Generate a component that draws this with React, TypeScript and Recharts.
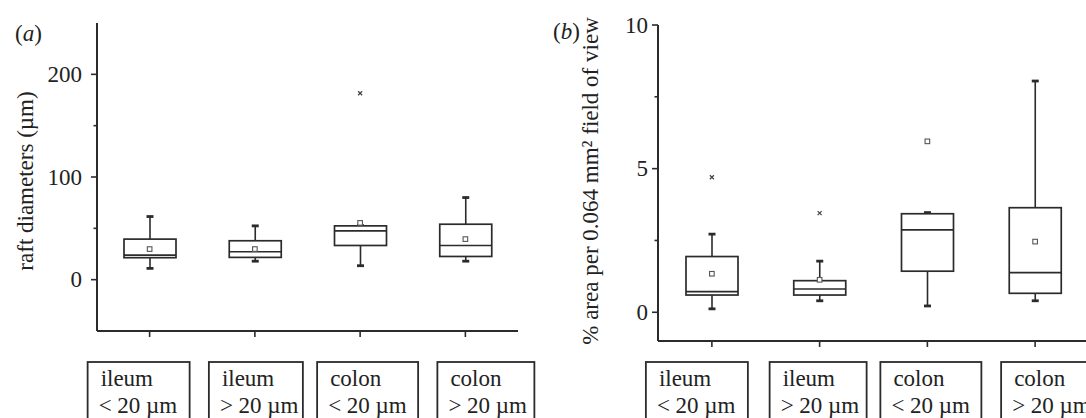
import React from 'react';
import { ComposedChart, Bar, Line, XAxis, YAxis } from 'recharts';

// ---------- data ----------
const CATEGORIES = ['ileum < 20 µm', 'ileum > 20 µm', 'colon < 20 µm', 'colon > 20 µm'];
const LABEL_LINE1 = ['ileum', 'ileum', 'colon', 'colon'];
const LABEL_LINE2 = ['< 20 µm', '> 20 µm', '< 20 µm', '> 20 µm'];

// panel (a): raft diameters (µm)
const A_LOW = [11, 18, 13.6, 18];
const A_Q1 = [21.4, 21.7, 33.3, 22.6];
const A_MED = [24, 27.2, 47.6, 33.3];
const A_Q3 = [39.5, 37.9, 52.4, 54];
const A_HIGH = [61.5, 52.4, 52.6, 80];
const A_MEAN = [29.8, 29.8, 55.3, 39.5];
const A_OUT: (number | null)[] = [null, null, 181.5, null];
const A_DOMAIN: [number, number] = [-50, 250];
const A_TICKS = [0, 50, 100, 150, 200];
const A_TICK_LABELS = [0, 100, 200];

// panel (b): % area per 0.064 mm² field of view
const B_LOW = [0.12, 0.4, 0.22, 0.4];
const B_Q1 = [0.6, 0.6, 1.43, 0.66];
const B_MED = [0.72, 0.81, 2.87, 1.38];
const B_Q3 = [1.94, 1.1, 3.43, 3.64];
const B_HIGH = [2.72, 1.78, 3.47, 8.05];
const B_MEAN = [1.34, 1.13, 5.95, 2.46];
const B_OUT: (number | null)[] = [4.7, 3.45, null, null];
const B_DOMAIN: [number, number] = [-1, 10];
const B_TICKS = [0, 2.5, 5, 7.5, 10];
const B_TICK_LABELS = [0, 5, 10];

// ---------- style / layout ----------
const INK = '#2b2b2b';
const FONT = "'Liberation Serif', 'Times New Roman', serif";
const FS = 23;
const LABEL_BOX_A = [
  { dx: -62, w: 102 },
  { dx: -46, w: 94 },
  { dx: -43, w: 101 },
  { dx: -28, w: 97 },
];
const LABEL_BOX_B = [
  { dx: -66, w: 102 },
  { dx: -50, w: 97 },
  { dx: -47, w: 101 },
  { dx: -34, w: 100 },
];

const buildRows = (
  lo: number[], q1: number[], med: number[], q3: number[], hi: number[], mean: number[], out: (number | null)[]
) =>
  CATEGORIES.map((cat, i) => ({
    cat,
    whisker: [lo[i], hi[i]],
    box: [q1[i], q3[i]],
    medSeg: [q1[i], med[i]],
    mean: mean[i],
    out: out[i],
  }));

const ROWS_A = buildRows(A_LOW, A_Q1, A_MED, A_Q3, A_HIGH, A_MEAN, A_OUT);
const ROWS_B = buildRows(B_LOW, B_Q1, B_MED, B_Q3, B_HIGH, B_MEAN, B_OUT);

// ---------- shapes ----------
const norm = (p: any) => {
  const top = Math.min(p.y, p.y + p.height);
  const bot = Math.max(p.y, p.y + p.height);
  return { top, bot, cx: p.x + p.width / 2, left: p.x, w: p.width };
};

const WhiskerShape = (p: any) => {
  const { top, bot, cx } = norm(p);
  return (
    <g>
      <line x1={cx} x2={cx} y1={top} y2={bot} stroke={INK} strokeWidth={1.6} />
      <line x1={cx - 3.5} x2={cx + 3.5} y1={top} y2={top} stroke={INK} strokeWidth={2.8} />
      <line x1={cx - 3.5} x2={cx + 3.5} y1={bot} y2={bot} stroke={INK} strokeWidth={2.8} />
    </g>
  );
};

const BoxShape = (p: any) => {
  const { top, bot, left, w } = norm(p);
  return <rect x={left} y={top} width={w} height={bot - top} fill="#fff" stroke={INK} strokeWidth={1.7} />;
};

const MedianShape = (p: any) => {
  const { top, left, w } = norm(p);
  return <line x1={left} x2={left + w} y1={top} y2={top} stroke={INK} strokeWidth={1.7} />;
};

const MeanDot = (p: any) => {
  const { cx, cy, payload } = p;
  if (payload == null || payload.mean == null || cy == null || isNaN(cy)) return null;
  return <rect x={cx - 2.3} y={cy - 2.3} width={4.6} height={4.6} fill="#fff" stroke="#555" strokeWidth={1.1} />;
};

const OutDot = (p: any) => {
  const { cx, cy, payload } = p;
  if (payload == null || payload.out == null || cy == null || isNaN(cy)) return null;
  return (
    <g stroke="#444" strokeWidth={1.3}>
      <line x1={cx - 2} x2={cx + 2} y1={cy - 2} y2={cy + 2} />
      <line x1={cx - 2} x2={cx + 2} y1={cy + 2} y2={cy - 2} />
    </g>
  );
};

const makeYTick = (labelled: number[], gap: number) => (p: any) => {
  const { x, y, payload } = p;
  const major = labelled.includes(payload.value);
  return (
    <g>
      <line x1={x - (major ? 6 : 3.5)} x2={x} y1={y} y2={y} stroke={INK} strokeWidth={1.6} />
      {major && (
        <text x={x - gap} y={y} dy="0.34em" textAnchor="end" fontFamily={FONT} fontSize={FS} fill="#222">
          {payload.value}
        </text>
      )}
    </g>
  );
};

const makeXTick = (boxes: { dx: number; w: number }[], boxTop: number) => (p: any) => {
  const { x, y, index } = p;
  const b = boxes[index];
  const bx = x + b.dx;
  return (
    <g>
      <line x1={x} x2={x} y1={y} y2={y + 6} stroke={INK} strokeWidth={1.6} />
      <rect x={bx} y={boxTop} width={b.w} height={80} fill="none" stroke={INK} strokeWidth={1.8} />
      <text x={bx + 13} y={boxTop + 24} fontFamily={FONT} fontSize={FS} fill="#222">
        {LABEL_LINE1[index]}
      </text>
      <text x={bx + 11} y={boxTop + 51} fontFamily={FONT} fontSize={FS} fill="#222">
        {LABEL_LINE2[index]}
      </text>
    </g>
  );
};

type PanelProps = {
  rows: any[];
  width: number;
  margin: { top: number; right: number; left: number; bottom: number };
  domain: [number, number];
  ticks: number[];
  labelled: number[];
  gap: number;
  boxes: { dx: number; w: number }[];
  boxTop: number;
};

const BoxPanel = ({ rows, width, margin, domain, ticks, labelled, gap, boxes, boxTop }: PanelProps) => (
  <ComposedChart width={width} height={418} data={rows} margin={margin}>
    <XAxis
      xAxisId="main"
      dataKey="cat"
      type="category"
      interval={0}
      height={30}
      tickSize={0}
      tickMargin={0}
      tickLine={false}
      axisLine={{ stroke: INK, strokeWidth: 2 }}
      tick={makeXTick(boxes, boxTop)}
    />
    <XAxis xAxisId="box" dataKey="cat" type="category" height={0} hide />
    <XAxis xAxisId="med" dataKey="cat" type="category" height={0} hide />
    <YAxis
      type="number"
      domain={domain}
      ticks={ticks}
      interval={0}
      width={60}
      tickSize={0}
      tickMargin={0}
      tickLine={false}
      allowDataOverflow
      axisLine={{ stroke: INK, strokeWidth: 2 }}
      tick={makeYTick(labelled, gap)}
    />
    <Bar xAxisId="main" dataKey="whisker" barSize={52} shape={WhiskerShape} isAnimationActive={false} />
    <Bar xAxisId="box" dataKey="box" barSize={52} shape={BoxShape} isAnimationActive={false} />
    <Bar xAxisId="med" dataKey="medSeg" barSize={52} shape={MedianShape} isAnimationActive={false} />
    <Line xAxisId="main" dataKey="mean" stroke="none" dot={MeanDot} activeDot={false} isAnimationActive={false} />
    <Line xAxisId="main" dataKey="out" stroke="none" dot={OutDot} activeDot={false} isAnimationActive={false} />
  </ComposedChart>
);

export default function App() {
  return (
    <div
      style={{
        position: 'absolute',
        left: 0,
        top: 0,
        width: 1086,
        height: 418,
        overflow: 'hidden',
        background: '#fff',
      }}
    >
      <div style={{ position: 'absolute', left: 0, top: 0 }}>
        <BoxPanel
          rows={ROWS_A}
          width={540}
          margin={{ top: 23, right: 22, left: 37, bottom: 57 }}
          domain={A_DOMAIN}
          ticks={A_TICKS}
          labelled={A_TICK_LABELS}
          gap={15}
          boxes={LABEL_BOX_A}
          boxTop={362}
        />
      </div>
      <div style={{ position: 'absolute', left: 540, top: 0 }}>
        <BoxPanel
          rows={ROWS_B}
          width={552}
          margin={{ top: 25, right: 3, left: 58, bottom: 47 }}
          domain={B_DOMAIN}
          ticks={B_TICKS}
          labelled={B_TICK_LABELS}
          gap={10}
          boxes={LABEL_BOX_B}
          boxTop={362}
        />
      </div>
      <svg
        width={1086}
        height={418}
        style={{ position: 'absolute', left: 0, top: 0, pointerEvents: 'none' }}
      >
        <text x={15} y={41} fontFamily={FONT} fontSize={FS} fill="#222">
          <tspan>(</tspan>
          <tspan fontStyle="italic">a</tspan>
          <tspan>)</tspan>
        </text>
        <text x={553} y={39} fontFamily={FONT} fontSize={FS} fill="#222">
          <tspan>(</tspan>
          <tspan fontStyle="italic">b</tspan>
          <tspan>)</tspan>
        </text>
        <text
          x={33}
          y={181}
          transform="rotate(-90 33 181)"
          textAnchor="middle"
          fontFamily={FONT}
          fontSize={FS}
          fill="#222"
        >
          raft diameters (µm)
        </text>
        <text
          x={598}
          y={181}
          transform="rotate(-90 598 181)"
          textAnchor="middle"
          fontFamily={FONT}
          fontSize={FS}
          fill="#222"
        >
          % area per 0.064 mm² field of view
        </text>
      </svg>
    </div>
  );
}
